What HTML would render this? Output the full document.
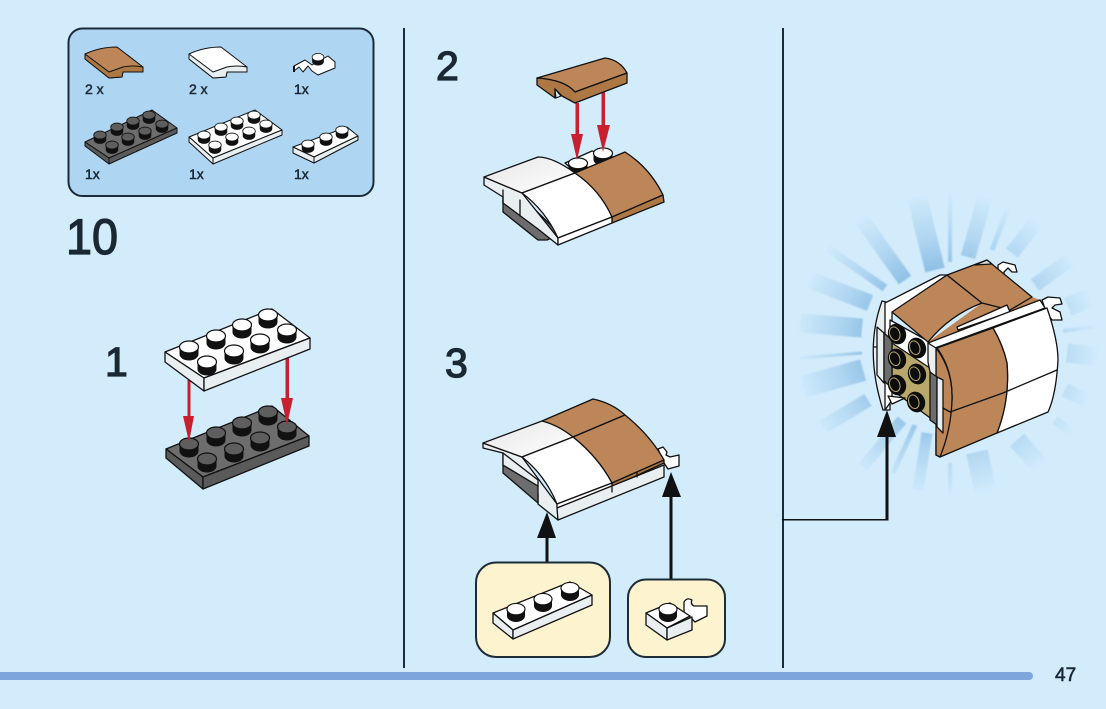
<!DOCTYPE html>
<html><head><meta charset="utf-8"><style>
html,body{margin:0;padding:0;background:#d2ecfc}
svg{display:block}
text{font-family:"Liberation Sans",sans-serif;fill:#1a2833}
.k{stroke:#111;stroke-width:1.3;stroke-linejoin:round;stroke-linecap:round}
.t{stroke:#111;stroke-width:1;stroke-linejoin:round}
.w{fill:#fff}.s{fill:#e9eef1}.b{fill:#bc8658}.d{fill:#ad7844}.g{fill:#6d6d6d}.h{fill:#5a5a5a}
.r{stroke:url(#ray);fill:none}
</style></head><body>
<svg width="1106" height="709" viewBox="0 0 1106 709" xmlns="http://www.w3.org/2000/svg">
<defs>
<radialGradient id="ray" gradientUnits="userSpaceOnUse" cx="945" cy="345" r="160">
<stop offset=".45" stop-color="#8abde3"/><stop offset=".68" stop-color="#b0d6f1"/><stop offset=".97" stop-color="#d2ecfc"/>
</radialGradient>
<filter id="bl" x="-10%" y="-10%" width="120%" height="120%"><feGaussianBlur stdDeviation="0.8"/></filter>
<linearGradient id="wg" x1="0" y1="0" x2="1" y2="1"><stop offset="0" stop-color="#e6e6e6"/><stop offset="1" stop-color="#fff"/></linearGradient>
<g id="sw"><path d="M-9.500-3V4A9.500 6.500 0 0 0 9.500 4V-3Z" fill="#111"/><ellipse cy="-3" rx="9.500" ry="6" fill="#fff" stroke="#111" stroke-width="1.200"/></g>
<g id="sd"><path d="M-9.500-3V4A9.500 6.500 0 0 0 9.500 4V-3Z" fill="#111"/><ellipse cy="-3" rx="9.500" ry="6" fill="#5e5e5e" stroke="#111" stroke-width="1.200"/></g>
<g id="fs"><ellipse rx="9" ry="10.500" fill="#0c0c0c" transform="rotate(-20)"/><ellipse cx="-2" cy="-1" rx="5" ry="7" fill="#0c0c0c" stroke="#b9a86c" stroke-width="1" transform="rotate(-20)"/></g>
</defs>
<rect width="1106" height="709" fill="#d2ecfc"/>

<!-- parts panel -->
<rect x="68.500" y="28.500" width="305" height="167.500" rx="14" fill="#aed6f3" stroke="#1c2b38" stroke-width="2"/>
<path class="t b" d="M85 54Q100 47 117 47L143 67V72H132L123 72 122 77 109 78 85 59Z"/>
<path class="t d" d="M85 54 109 72 123 67Q133 65 143 67V72H123L122 77 109 78 85 59Z"/>
<path class="t w" d="M189 54Q204 47 221 47L247 67V72H236L227 72 226 77 213 78 189 59Z"/>
<path class="t s" d="M189 54 213 72 227 67Q237 65 247 67V72H227L226 77 213 78 189 59Z"/>
<path class="t w" d="M294 66 305 60 312 65 328 56 335 62V68L318 75 312 71 308 66 303 72 299 67 294 71Z"/>
<use href="#sw" transform="translate(318 59) scale(.62)"/>
<rect x="293" y="66" width="2" height="6" fill="#111"/>
<path class="t g" d="M85 142 152 110 177 128 109 158Z"/><path class="t h" d="M85 142 109 158V164L85 146Z"/><path class="t h" d="M109 158 177 128V133L109 164Z"/>
<use href="#sd" transform="translate(100 137) scale(.66)"/><use href="#sd" transform="translate(117 129) scale(.66)"/><use href="#sd" transform="translate(133 123) scale(.66)"/><use href="#sd" transform="translate(149 117) scale(.66)"/><use href="#sd" transform="translate(112 147) scale(.66)"/><use href="#sd" transform="translate(128 139) scale(.66)"/><use href="#sd" transform="translate(145 133) scale(.66)"/><use href="#sd" transform="translate(162 126) scale(.66)"/>
<path class="t w" d="M189 137 255 110 282 130 213 158Z"/><path class="t s" d="M189 137 213 158V164L189 142Z"/><path class="t s" d="M213 158 282 130V135L213 164Z"/>
<use href="#sw" transform="translate(204 137) scale(.66)"/><use href="#sw" transform="translate(221 129) scale(.66)"/><use href="#sw" transform="translate(237 123) scale(.66)"/><use href="#sw" transform="translate(254 117) scale(.66)"/><use href="#sw" transform="translate(215 147) scale(.66)"/><use href="#sw" transform="translate(232 139) scale(.66)"/><use href="#sw" transform="translate(249 133) scale(.66)"/><use href="#sw" transform="translate(266 126) scale(.66)"/>
<path class="t w" d="M293 147 347 127 358 136 314 157Z"/><path class="t s" d="M293 147 314 157V163L293 153Z"/><path class="t s" d="M314 157 358 136V140L314 163Z"/>
<use href="#sw" transform="translate(308 146) scale(.66)"/><use href="#sw" transform="translate(326 139) scale(.66)"/><use href="#sw" transform="translate(342 132) scale(.66)"/>
<g font-size="14" stroke="#1a2833" stroke-width=".5">
<text x="85" y="94">2 x</text><text x="189" y="94">2 x</text><text x="294" y="94">1x</text>
<text x="85" y="179">1x</text><text x="189" y="179">1x</text><text x="294" y="179">1x</text></g>

<!-- numbers -->
<g stroke="#1a2833" stroke-width="1.300">
<text x="66" y="254" font-size="50" textLength="52" lengthAdjust="spacingAndGlyphs">10</text>
<text x="436" y="80" font-size="41">2</text>
<text x="105" y="376" font-size="41">1</text>
<text x="445" y="377" font-size="41">3</text>
</g>
<text x="1055" y="681" font-size="19" stroke="#1a2833" stroke-width=".6">47</text>

<!-- dividers and footer -->
<path d="M404 28V668M783 28V668" stroke="#1c2b38" stroke-width="2" fill="none"/>
<path d="M0 672H1029a4 4 0 0 1 0 8H0Z" fill="#7ea5dc"/>

<!-- step 1 -->
<path class="k g" d="M166 449 272 406 309 436 203 477Z"/><path class="k h" d="M166 449 203 477V489L166 458Z"/><path class="k h" d="M203 477 309 436V446L203 489Z"/>
<use href="#sd" transform="translate(189 447)"/><use href="#sd" transform="translate(216 436)"/><use href="#sd" transform="translate(242 426)"/><use href="#sd" transform="translate(268 415)"/><use href="#sd" transform="translate(207 462)"/><use href="#sd" transform="translate(234 452)"/><use href="#sd" transform="translate(260 441)"/><use href="#sd" transform="translate(287 430)"/>
<path d="M187.500 380H190.500V416H194L189 442 183 416H187.500ZM285.500 358H289V398H293L287 425 281 398H285.500Z" fill="#c8202f"/>
<path class="k w" d="M165 352 272 309 310 338 204 378Z"/><path class="k s" d="M165 352 204 378V391L165 362Z"/><path class="k s" d="M204 378 310 338V349L204 391Z"/>
<use href="#sw" transform="translate(189 350)"/><use href="#sw" transform="translate(216 339)"/><use href="#sw" transform="translate(242 328)"/><use href="#sw" transform="translate(268 318)"/><use href="#sw" transform="translate(207 365)"/><use href="#sw" transform="translate(234 354)"/><use href="#sw" transform="translate(260 343)"/><use href="#sw" transform="translate(287 333)"/>

<!-- step 2 -->
<path class="k w" d="M565 163 592 151 612 155 580 176Z"/>
<use href="#sw" transform="translate(578 166) scale(1 .9)"/><use href="#sw" transform="translate(603 156) scale(1 .9)"/>
<path class="k g" d="M503 200V212L538 240H547L560 234 520 195Z"/>
<path class="k s" d="M484 177 522 193 558 238V245L538 229 503 203V197L484 185Z"/>
<path class="k" fill="none" d="M503 190V203M520 200 520 216"/>
<path class="k" fill="url(#wg)" d="M484 177 538 157Q553 157 575 173L522 193Z"/>
<path class="k w" d="M522 193 575 173Q600 190 612 217L558 238Q545 210 522 193Z"/>
<path class="k b" d="M575 173 625 152Q650 168 663 195L612 217Q600 190 575 173Z"/>
<path class="k d" d="M612 217 663 195 664 202 612 223Z"/>
<path class="k w" d="M558 238 612 217V223L558 245Z"/>
<path d="M575.500 103H579V134H583L577 160 571 134H575.500ZM601.500 92H605V125H610L603 152 597 125H601.500Z" fill="#c8202f"/>
<path class="k b" d="M537 78 605 58Q620 60 627 73L575 92Q565 80 537 78Z"/>
<path class="k d" d="M537 78Q565 80 575 92L627 73V83L575 103 562 96 555 89V98L537 85Z"/>
<path d="M555 89 561 96 556 98Z" fill="#d2ecfc" stroke="#111"/>

<!-- step 3 -->
<path class="k w" d="M658 449 663 447 667 452 666 455 670 457 679 455V466L668 469 664 463Z"/>
<path class="k s" d="M483 443 522 457 557 504 558 520 538 504V494L503 465V453L483 448Z"/>
<path class="k g" d="M503 465V473L538 503V486Z"/>
<path class="k s" d="M503 453 538 480V486L503 465Z"/>
<path class="k" fill="url(#wg)" d="M483 443 542 421Q558 423 573 437L522 457Z"/>
<path class="k b" d="M542 421 593 399Q612 403 625 415L573 437Q558 425 542 421Z"/>
<path class="k b" d="M573 437 625 415Q650 435 664 460L612 483Q598 457 573 437Z"/>
<path class="k w" d="M522 457 573 437Q598 457 612 483L557 504Q545 475 522 457Z"/>
<path class="k d" d="M612 483 664 460V463L612 487Z"/>
<path class="k w" d="M557 504 612 483V487L557 508Z"/>
<path class="k s" d="M557 508 664 465V477L558 520Z"/>
<path d="M637 472V477M612 487V492" class="k" fill="none"/>
<path d="M545.500 562V538H537L547 512 556 538H548.500V562ZM669.500 579V497H662L671 472 681 497H672.500V579Z" fill="#111"/>
<rect x="476" y="562.500" width="134" height="94.500" rx="20" fill="#fef3cf" stroke="#1c2b38" stroke-width="2"/>
<rect x="628" y="579.500" width="97" height="77.500" rx="18" fill="#fef3cf" stroke="#1c2b38" stroke-width="2"/>
<path class="k w" d="M493 613 570 582 592 595 513 630Z"/><path class="k s" d="M493 613 513 630V639L493 623Z"/><path class="k s" d="M513 630 592 595V605L513 639Z"/>
<use href="#sw" transform="translate(516 612) scale(.95)"/><use href="#sw" transform="translate(543 602) scale(.95)"/><use href="#sw" transform="translate(570 591) scale(.95)"/>
<path class="k w" d="M684 602Q687 597 692 600 690 604 694 606 700 606 707 606V616L695 622 690 617 684 612Z"/>
<path class="k w" d="M646 613 670 603 690 616 667 628Z"/><path class="k s" d="M646 613 667 628V640L646 625Z"/><path class="k s" d="M667 628 692 617V630L667 640Z"/>
<use href="#sw" transform="translate(668 612) scale(.95)"/>

<!-- rays -->
<g filter="url(#bl)">
<path class="r" stroke-width="15" d="M905 280 860 217"/><path class="r" stroke-width="20" d="M935 270 917 197"/><path class="r" stroke-width="4" d="M950 262 950.100 190"/><path class="r" stroke-width="15" d="M968 257 985 197"/><path class="r" stroke-width="5" d="M992 250 1010 203"/><path class="r" stroke-width="15" d="M1012 253 1043 213"/><path class="r" stroke-width="14" d="M1035 285 1077 255"/><path class="r" stroke-width="19" d="M1068 307 1106 290"/><path class="r" stroke-width="4" d="M1063 331 1106 325"/><path class="r" stroke-width="19" d="M1067 353 1106 358"/><path class="r" stroke-width="14" d="M1065 390 1100 407"/><path class="r" stroke-width="9" d="M1055 420 1077 437"/><path class="r" stroke-width="19" d="M1017 440 1050 477"/><path class="r" stroke-width="22" d="M977 452 987 497"/><path class="r" stroke-width="4" d="M950 463 950.100 497"/><path class="r" stroke-width="11" d="M927 433 918 490"/><path class="r" stroke-width="5" d="M915 425 893 473"/><path class="r" stroke-width="11" d="M902 420 863 467"/><path class="r" stroke-width="14" d="M868 400 823 427"/><path class="r" stroke-width="22" d="M863 370 803 387"/><path class="r" stroke-width="3" d="M862 353 800 358"/><path class="r" stroke-width="19" d="M862 328 800 323"/><path class="r" stroke-width="17" d="M870 303 810 280"/><path class="r" stroke-width="8" d="M885 288 827 248"/>
</g>

<!-- final model -->
<path class="k w" d="M998 265 1003 262 1015 265 1017 272 1012 272 1008 268 1004 272V277L998 270Z"/>
<path class="k w" d="M1042 300 1048 297 1060 298 1062 304 1055 305 1052 308 1060 312 1062 320 1052 320 1046 312Z"/>
<path class="k s" d="M882 301Q864 350 883 410L890 410V303Z"/>
<path class="k" fill="none" d="M874 347H885"/>
<path class="k w" d="M885 303 940 275 947 275 892 313 892 400 885 410Z"/>
<path class="k w" d="M890 320 930 342V372L890 345Z"/>
<path class="k" fill="#b9a86c" d="M892 343 933 370V420L892 390Z"/>
<path class="k w" d="M888 396 905 398 892 404Z"/>
<path class="k s" d="M877 327 884 333V383L877 375Z"/>
<path class="k g" d="M884 333 892 340V388L884 381Z"/>
<use href="#fs" x="897" y="334"/><use href="#fs" x="917" y="348"/><use href="#fs" x="897" y="359"/><use href="#fs" x="917" y="374"/><use href="#fs" x="897" y="385"/><use href="#fs" x="916" y="402"/>
<path class="b" d="M928 342 982 303 1032 297 1040 300 928 343Z"/>
<path class="k b" d="M892 312 947 275 982 303Q950 315 928 342Z"/>
<path class="k b" d="M947 275 987 260 1032 297 1010 310 982 303Z"/>
<path class="k" fill="#d9d9d9" d="M975 265 987 260 992 264Z"/>
<path class="k w" d="M957 327 1007 305 1010 312 958 330Z"/>
<path class="k w" d="M928 343 1040 300 1045 308 935 348Z"/>
<path class="k w" d="M993 328 1047 308Q1058 340 1058 360 1056 395 1048 412L997 433Q1010 400 1007 363 1003 345 993 328Z"/>
<path class="k b" d="M937 348 993 328Q1003 345 1007 363 1010 400 997 433L940 457 936 455V433Q950 430 952 400 953 370 937 348Z"/>
<path class="k b" d="M936 348Q953 370 952 400 951 430 940 457L936 455V348Z"/>
<path class="k s" d="M928 343 936 348V377L930 372 928 362Z"/>
<path class="k g" d="M930 372 937 377V425L930 420Z"/>
<path class="k s" d="M937 377 943 380V433L937 427Z"/>
<path class="k" fill="none" d="M943 408 950 412 1003 393 1057 370"/>
<path d="M781.500 519H885.500V437H877L887 410 896 437H888.500V520.500H783Z" fill="#111"/>
</svg>
</body></html>
